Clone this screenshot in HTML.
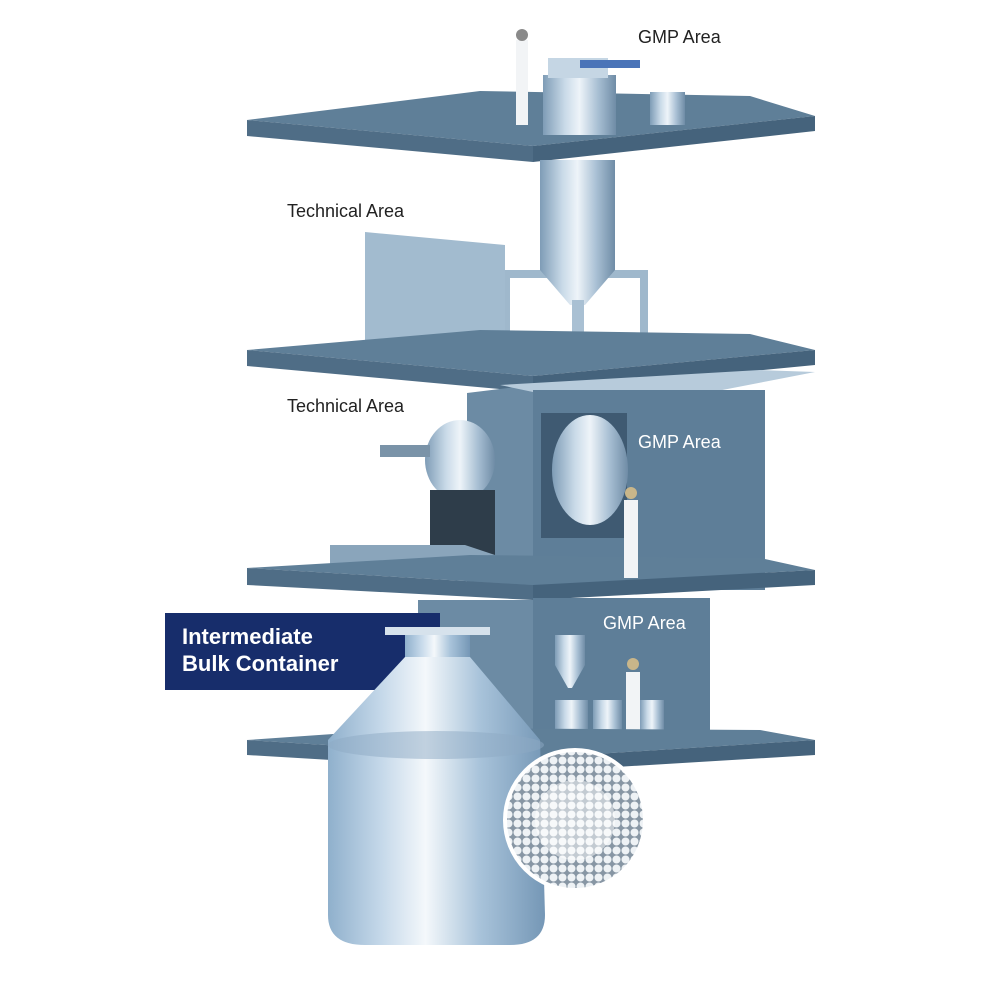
<!DOCTYPE html>
<html><head><style>
html,body{margin:0;padding:0;background:#fff;width:1000px;height:1000px;overflow:hidden}
svg{display:block}
text{font-family:"Liberation Sans",sans-serif}
</style></head><body>
<svg width="1000" height="1000" viewBox="0 0 1000 1000">
<defs>
<linearGradient id="metal" x1="0" x2="1" y1="0" y2="0">
<stop offset="0" stop-color="#7e9cb6"/><stop offset="0.3" stop-color="#c9dae8"/><stop offset="0.5" stop-color="#eef4f9"/><stop offset="0.75" stop-color="#a9c0d4"/><stop offset="1" stop-color="#6f8ca6"/>
</linearGradient>
<linearGradient id="cont" x1="0" x2="1">
<stop offset="0" stop-color="#8fb0cc"/><stop offset="0.25" stop-color="#c6d9ea"/><stop offset="0.45" stop-color="#f4f8fb"/><stop offset="0.7" stop-color="#a8c3da"/><stop offset="1" stop-color="#7597b6"/>
</linearGradient>
<radialGradient id="balls" cx="0.5" cy="0.5" r="0.5">
<stop offset="0" stop-color="#ffffff"/><stop offset="0.6" stop-color="#dfe7ee"/><stop offset="1" stop-color="#a9b9c7"/>
</radialGradient>
<pattern id="dots" width="9" height="9" patternUnits="userSpaceOnUse">
<rect width="9" height="9" fill="#8796a4"/><circle cx="4.5" cy="4.5" r="4" fill="#eef2f5"/>
</pattern>
</defs>

<!-- Slab 1 -->
<polygon points="247,120 480,91 750,96 815,116 533,146" fill="#5f7f98"/>
<polygon points="247,120 533,146 533,162 247,136" fill="#4f6d86"/>
<polygon points="533,146 815,116 815,131 533,162" fill="#45637c"/>

<!-- column between slabs -->
<rect x="513" y="160" width="85" height="105" fill="#b0c6d8" opacity="0"/>
<!-- technical wall -->
<polygon points="365,232 505,245 505,350 365,340" fill="#a2bbcf"/>
<rect x="540" y="160" width="75" height="110" fill="url(#metal)"/>
<polygon points="505,270 648,270 648,340 640,340 640,278 510,278 510,355 505,355" fill="#9fb8cc"/>
<polygon points="540,270 615,270 585,305 570,305" fill="url(#metal)"/>
<rect x="572" y="300" width="12" height="50" fill="#a9c0d3"/>

<!-- Slab 2 -->
<polygon points="247,350 480,330 750,334 815,350 533,376" fill="#5f7f98"/>
<polygon points="247,350 533,376 533,392 247,366" fill="#4f6d86"/>
<polygon points="533,376 815,350 815,365 533,392" fill="#45637c"/>

<!-- Block 2-3 -->
<polygon points="467,393 533,385 533,590 467,590" fill="#6c8ba4"/>
<polygon points="500,385 760,370 815,372 712,392 533,392" fill="#b7cbdb"/>
<rect x="533" y="390" width="232" height="200" fill="#5e7e98"/>
<rect x="541" y="413" width="86" height="125" fill="#3f5a72"/>
<ellipse cx="590" cy="470" rx="38" ry="55" fill="url(#metal)"/>
<!-- machine -->
<ellipse cx="460" cy="460" rx="35" ry="40" fill="url(#metal)"/>
<rect x="380" y="445" width="50" height="12" fill="#7a93a8"/>
<polygon points="430,490 495,490 495,555 430,555" fill="#2e3d4a"/>
<polygon points="330,545 465,545 495,555 330,565" fill="#8aa5bb"/>

<!-- Slab 3 -->
<polygon points="247,568 470,555 760,558 815,570 533,585" fill="#5f7f98"/>
<polygon points="247,568 533,585 533,600 247,585" fill="#4f6d86"/>
<polygon points="533,585 815,570 815,585 533,600" fill="#45637c"/>

<!-- Block 3-4 -->
<rect x="418" y="600" width="115" height="140" fill="#6c8ba4"/>
<rect x="533" y="598" width="177" height="142" fill="#5e7e98"/>
<!-- people -->
<rect x="624" y="500" width="14" height="78" fill="#f2f4f6"/>
<circle cx="631" cy="493" r="6" fill="#c9b68a"/>
<rect x="626" y="672" width="14" height="80" fill="#f2f4f6"/>
<circle cx="633" cy="664" r="6" fill="#c9b68a"/>
<rect x="516" y="40" width="12" height="85" fill="#f2f4f6"/>
<circle cx="522" cy="35" r="6" fill="#8a8a8a"/>
<!-- small vessels -->
<polygon points="555,635 585,635 585,665 572,688 568,688 555,665" fill="url(#metal)"/>
<polygon points="555,700 588,700 588,750 555,750" fill="url(#metal)"/>
<polygon points="593,700 622,700 622,750 593,750" fill="url(#metal)"/>
<polygon points="640,700 664,700 664,748 640,748" fill="url(#metal)"/>
<!-- top equipment -->
<rect x="543" y="75" width="73" height="60" fill="url(#metal)"/>
<rect x="548" y="58" width="60" height="20" fill="#c5d6e4"/>
<rect x="580" y="60" width="60" height="8" fill="#4a74b8"/>
<polygon points="650,92 685,92 685,125 650,125" fill="url(#metal)"/>

<!-- Slab 4 -->
<polygon points="247,740 420,728 760,730 815,740 533,758" fill="#5f7f98"/>
<polygon points="247,740 533,758 533,772 247,755" fill="#4f6d86"/>
<polygon points="533,758 815,740 815,755 533,772" fill="#45637c"/>

<!-- label -->
<rect x="165" y="613" width="275" height="77" fill="#172d6b"/>
<text x="182" y="644" font-size="22" font-weight="bold" fill="#fff">Intermediate</text>
<text x="182" y="671" font-size="22" font-weight="bold" fill="#fff">Bulk Container</text>

<!-- container -->
<rect x="385" y="627" width="105" height="8" fill="#d6e2ec"/>
<rect x="405" y="635" width="65" height="22" fill="url(#cont)"/>
<path d="M405,657 L470,657 L540,740 L545,915 Q545,945 510,945 L365,945 Q328,945 328,915 L328,740 Z" fill="url(#cont)"/>
<ellipse cx="436" cy="745" rx="108" ry="14" fill="#8eaac3" opacity="0.5"/>

<!-- balls -->
<circle cx="575" cy="820" r="70" fill="url(#dots)" stroke="#fff" stroke-width="4"/>
<circle cx="575" cy="820" r="40" fill="#fff" opacity="0.5"/>

<!-- texts -->
<text x="638" y="43" font-size="18" fill="#222">GMP Area</text>
<text x="287" y="217" font-size="18" fill="#222">Technical Area</text>
<text x="287" y="412" font-size="18" fill="#222">Technical Area</text>
<text x="638" y="448" font-size="18" fill="#fff">GMP Area</text>
<text x="603" y="629" font-size="18" fill="#fff">GMP Area</text>
</svg>
</body></html>
